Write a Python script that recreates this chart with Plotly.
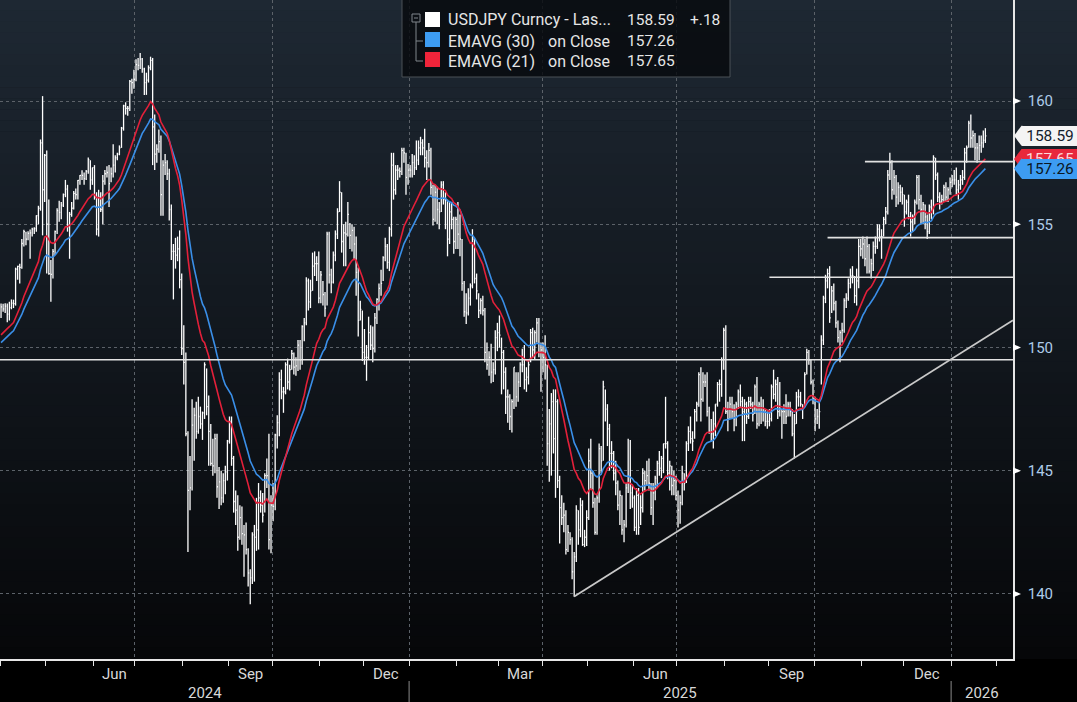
import numpy as np
import pandas as pd
import plotly.graph_objects as go

# ---------------- data (daily bars, weekdays from START_DATE) ----------------
START_DATE = "2024-04-01"

CLOSE = [
    # Apr 2024
    151.65,151.57,151.68,151.35,151.62,151.80,151.78,153.18,153.29,153.25,154.22,154.70,154.40,154.63,154.65,154.80,154.82,155.35,155.65,158.30,156.40,157.80,
    # May
    155.00,153.00,152.97,153.90,154.70,155.55,155.48,155.78,156.20,156.43,154.90,155.40,155.65,156.25,156.20,156.78,156.98,156.98,156.85,157.15,157.62,156.80,157.30,
    # Jun
    156.10,154.80,156.10,155.60,156.75,157.05,157.10,156.65,157.05,157.40,157.70,157.85,158.10,158.90,159.80,159.70,159.70,160.80,160.75,160.88,
    # Jul
    161.48,161.45,161.70,161.30,160.75,160.85,161.35,161.65,158.95,157.85,158.05,158.35,156.20,157.40,157.50,157.05,155.60,153.90,153.90,153.75,154.00,152.75,149.95,
    # Aug
    149.40,146.50,144.20,144.30,146.85,147.25,146.60,147.20,146.90,147.35,149.30,147.60,146.60,145.30,145.20,146.30,144.35,144.55,143.90,144.60,144.95,146.20,
    # Sep
    147.00,145.50,143.75,143.40,142.30,143.10,142.45,142.40,141.80,140.85,140.65,142.40,142.30,142.60,143.90,143.60,143.20,144.80,144.80,142.20,143.60,
    # Oct
    143.55,146.45,146.95,148.70,148.20,148.20,149.30,148.60,149.10,149.75,149.20,149.25,150.10,149.50,150.85,151.00,152.70,151.85,152.30,153.30,153.40,153.40,152.00,
    # Nov
    152.95,152.15,151.60,154.60,152.95,152.65,153.75,154.60,155.50,156.30,154.30,154.65,154.60,155.40,154.55,154.75,154.20,153.05,151.10,151.55,149.80,
    # Dec
    149.60,149.60,150.60,150.10,149.95,151.20,151.95,152.40,152.60,153.65,154.10,153.45,154.80,157.40,156.40,157.20,157.20,157.15,158.00,157.90,156.90,157.20,
    # Jan 2025
    157.20,157.50,157.30,157.60,158.10,158.30,158.10,157.70,157.50,158.00,156.50,155.20,156.30,155.60,155.50,156.60,156.00,156.00,154.40,155.50,155.20,154.30,155.20,
    # Feb
    154.60,154.40,152.60,151.45,151.40,152.00,152.50,154.40,152.80,152.30,151.50,151.90,151.50,149.80,149.30,149.60,149.00,149.10,150.40,150.60,
    # Mar
    150.50,149.80,149.00,148.00,148.00,147.20,147.80,149.20,148.00,148.60,149.30,149.30,148.70,148.80,149.30,150.60,149.90,150.60,151.00,149.80,149.90,
    # Apr
    149.60,149.30,146.10,146.90,147.80,146.30,147.80,144.60,143.50,143.10,143.20,141.80,142.50,142.20,140.90,141.50,143.40,142.60,143.60,142.00,142.30,143.10,
    # May
    145.40,144.90,143.70,142.50,143.90,145.90,145.40,148.40,147.50,146.70,145.70,145.70,144.90,144.50,143.60,144.00,142.60,142.80,144.30,144.80,144.10,143.90,
    # Jun
    142.70,144.00,142.70,143.50,144.90,144.60,144.80,144.50,143.50,144.10,144.70,145.30,145.10,145.50,146.10,146.10,144.90,145.20,144.40,144.60,144.00,
    # Jul
    143.40,143.70,144.90,144.50,146.10,146.60,146.30,146.20,147.40,147.70,148.90,147.90,148.60,148.60,147.40,146.60,146.50,146.90,147.70,148.50,148.50,149.50,150.70,
    # Aug
    147.40,147.10,147.70,147.40,147.10,147.70,148.20,147.80,147.40,147.70,147.20,147.80,147.70,147.30,148.40,146.90,147.70,147.40,147.40,147.00,147.00,
    # Sep
    147.10,148.40,148.10,148.50,147.40,147.50,147.40,147.40,147.20,147.70,147.40,146.50,146.90,148.00,148.00,147.70,147.60,148.90,149.80,149.50,148.60,147.90,
    # Oct
    147.10,147.20,147.40,150.30,152.00,152.70,153.00,151.20,152.30,151.80,151.00,150.40,150.60,150.70,151.90,152.00,152.60,152.90,152.90,152.10,152.70,154.10,154.00,
    # Nov
    154.20,153.60,154.10,153.10,153.40,154.10,154.10,154.80,154.50,154.50,155.20,155.50,157.00,157.50,156.40,156.90,156.10,156.50,156.30,156.20,
    # Dec
    155.50,155.90,155.30,155.10,155.30,155.90,156.90,156.00,155.60,155.80,155.30,154.70,155.70,155.60,157.70,157.00,156.10,155.90,156.00,156.50,156.10,156.40,156.70,
    # Jan 2026
    156.80,156.80,156.40,156.60,156.80,156.90,157.90,158.10,159.10,158.50,158.60,158.10,158.10,158.20,158.30,158.41,158.59,
]

HIGH = [
    151.78,151.77,151.80,151.78,151.86,151.95,151.94,153.24,153.32,153.40,154.40,154.78,154.70,154.72,154.79,154.86,154.88,155.37,155.75,158.44,160.20,157.85,
    157.99,156.00,153.55,154.00,154.75,155.65,155.95,155.90,156.25,156.80,156.60,155.50,155.90,156.35,156.45,156.80,157.00,157.19,157.10,157.20,157.71,157.60,157.30,
    157.40,156.30,156.40,156.30,157.00,157.20,157.35,157.40,157.30,158.25,157.80,157.90,158.20,158.95,159.85,159.95,159.80,160.85,160.90,161.27,
    161.70,161.75,161.95,161.75,161.35,161.15,161.45,161.80,161.75,159.45,158.25,158.85,158.60,157.60,157.85,157.60,157.25,155.80,154.20,154.45,154.50,154.75,153.00,
    150.90,149.80,146.60,145.60,147.90,147.55,147.80,148.00,147.60,147.40,149.40,149.15,148.05,146.90,146.30,146.50,146.50,145.15,145.00,144.90,145.20,146.25,
    147.20,147.20,145.60,144.20,144.00,143.60,143.55,142.80,142.90,141.85,141.00,142.50,142.80,143.90,144.50,144.20,144.10,144.90,145.50,146.50,144.00,
    144.50,146.50,147.25,149.00,149.10,148.40,149.40,149.55,149.30,149.90,149.80,149.60,150.30,150.30,150.90,151.20,152.85,152.80,152.75,153.85,153.90,153.70,153.90,
    153.10,152.70,152.25,154.70,154.70,153.20,153.90,154.75,155.65,156.75,156.30,155.00,155.10,155.90,155.05,155.00,154.90,154.50,153.25,151.90,151.50,
    150.75,150.10,151.25,150.90,150.85,151.40,152.00,152.60,153.15,153.70,154.45,154.20,154.90,157.90,157.90,157.40,157.40,157.30,158.10,158.10,157.90,157.45,
    157.40,157.85,157.80,158.40,158.40,158.55,158.45,158.88,158.00,158.30,158.10,156.60,156.60,156.50,155.90,156.75,156.75,156.30,156.00,155.90,155.90,155.30,155.30,
    155.90,155.40,154.40,152.70,152.20,152.40,152.60,154.80,154.45,153.00,152.20,152.00,152.10,151.60,150.20,149.85,150.15,149.40,150.70,151.00,
    151.30,150.40,149.90,149.20,148.30,148.10,147.90,149.20,149.00,149.00,149.40,149.95,150.10,149.20,149.50,150.75,150.80,150.70,151.20,151.20,150.20,
    150.20,150.50,149.30,147.50,148.15,148.30,148.30,147.90,144.80,144.00,143.70,143.40,142.80,142.50,142.30,141.70,143.60,143.40,143.90,143.80,142.60,143.40,
    145.90,146.30,145.00,143.90,144.00,146.10,146.00,148.65,148.30,147.70,146.90,146.20,145.80,145.40,144.60,144.20,144.00,143.00,144.50,146.30,146.25,144.40,
    144.00,144.30,144.30,144.00,145.10,145.00,145.40,145.50,144.50,144.50,144.80,145.40,145.80,145.60,146.10,148.00,146.20,145.40,145.20,145.00,144.80,
    144.20,144.00,145.20,144.90,146.20,146.80,147.20,146.60,147.50,147.80,149.00,149.20,149.00,148.90,149.00,147.60,147.10,147.40,147.70,148.60,148.70,149.60,150.80,
    150.90,147.80,148.00,148.00,147.70,147.80,148.30,148.50,148.00,147.90,147.80,148.00,148.00,147.80,148.50,148.80,147.80,148.00,147.90,147.50,147.40,
    147.50,148.50,149.10,148.70,148.80,148.60,147.50,147.70,148.10,147.80,147.80,147.50,147.30,148.20,148.30,148.20,147.70,149.00,149.95,149.90,149.50,148.70,
    148.00,147.50,147.90,150.50,152.10,152.95,153.20,153.30,152.50,152.60,151.90,151.10,150.70,151.00,152.00,152.20,152.80,153.20,153.30,152.90,153.20,154.40,154.40,
    154.50,154.40,154.50,154.20,153.60,154.30,154.50,155.00,155.00,154.80,155.30,155.70,157.20,157.90,157.60,157.20,157.00,156.70,156.60,156.50,
    156.20,156.00,156.20,155.50,155.40,156.00,157.00,157.00,156.20,155.90,155.80,155.40,155.80,156.00,157.80,157.70,157.10,156.30,156.20,156.60,156.70,156.50,156.90,
    157.00,157.20,157.30,156.80,157.00,157.20,158.10,158.20,159.20,159.45,158.80,158.70,158.30,158.60,158.60,158.80,158.90,
]

LOW = [
    151.20,151.45,151.40,151.02,151.10,151.55,151.60,151.70,152.75,152.60,153.20,154.10,154.15,154.35,153.60,154.50,154.60,154.70,155.00,155.55,154.55,155.90,
    153.00,152.95,151.86,152.80,153.75,154.60,155.10,155.20,155.70,156.10,154.70,153.60,155.30,155.60,156.00,156.00,156.60,156.80,156.60,156.80,157.05,156.40,156.60,
    156.00,154.55,154.50,155.50,155.00,156.60,156.90,155.70,156.70,156.90,157.10,157.60,157.80,158.10,158.80,159.45,159.40,159.60,160.30,160.50,
    160.80,161.25,161.30,161.15,160.25,160.25,160.75,161.25,157.40,157.20,157.50,157.90,155.35,155.35,157.00,156.80,155.15,153.55,151.95,153.20,153.50,152.40,149.70,
    148.50,146.40,141.70,143.40,144.20,145.40,146.30,146.50,146.70,146.25,147.10,147.25,145.20,145.20,144.80,144.90,143.90,143.45,143.60,143.70,144.05,144.60,
    146.10,145.20,143.30,142.80,141.75,142.20,142.00,140.70,141.60,140.30,139.58,140.40,140.50,141.75,141.80,143.30,142.90,143.30,144.30,141.80,141.65,
    142.95,143.40,145.90,146.40,147.90,147.35,148.10,148.30,148.25,149.10,148.90,148.85,149.05,149.10,149.30,150.25,150.90,151.50,151.60,152.30,152.90,152.70,151.80,
    151.80,151.70,151.25,151.70,152.60,152.20,152.60,153.50,154.40,155.50,153.85,153.30,153.30,154.50,154.00,153.90,153.55,152.10,150.45,151.10,149.45,
    149.30,148.65,149.50,149.90,149.40,149.80,150.95,151.50,152.10,152.70,153.50,153.20,153.10,154.50,156.00,156.20,156.80,156.90,157.00,157.50,156.20,156.60,
    156.90,156.90,157.00,157.20,157.40,157.80,157.80,157.30,156.80,157.30,156.20,154.95,155.10,155.00,154.80,155.50,155.80,154.80,153.70,154.20,154.80,153.80,154.00,
    154.00,153.70,152.30,151.25,150.95,151.30,151.70,152.40,152.60,151.95,151.20,151.35,151.30,149.40,149.10,148.85,148.55,148.60,148.90,149.85,
    150.00,148.10,148.30,147.30,146.95,146.65,146.55,147.50,147.60,147.80,148.40,149.00,148.30,148.20,148.50,149.40,149.60,149.50,150.20,149.60,148.20,
    149.00,148.70,145.20,144.55,144.80,145.70,143.90,144.30,142.05,142.80,142.50,141.60,141.70,142.00,140.60,139.89,141.30,142.00,142.30,141.95,141.90,141.95,
    143.00,144.25,143.50,142.40,142.40,143.70,144.90,145.40,147.00,146.00,145.00,145.10,144.60,144.00,143.40,142.80,142.40,142.10,142.70,144.10,143.45,143.50,
    142.55,142.40,142.40,142.80,143.30,144.20,144.40,144.20,143.20,142.80,143.80,144.30,144.80,144.70,144.90,145.90,144.65,144.20,144.00,144.00,143.80,
    142.70,142.85,143.60,144.20,144.50,145.80,146.10,145.80,146.30,147.00,147.60,147.00,147.80,148.40,147.20,146.50,146.20,145.90,146.40,147.60,147.80,148.00,149.10,
    147.30,146.60,147.10,147.10,146.60,146.80,147.50,147.60,146.20,146.20,146.90,147.10,147.50,147.00,147.30,146.70,146.80,146.90,147.00,146.80,146.70,
    146.80,147.00,147.90,147.80,147.10,147.20,146.30,146.90,146.90,147.20,147.20,146.40,145.50,146.90,147.60,147.60,147.10,147.60,148.90,149.30,148.50,147.70,
    146.60,146.90,146.70,148.50,150.10,151.80,152.40,151.00,151.40,151.50,150.80,150.20,149.40,150.20,150.60,151.60,151.90,152.40,152.60,151.80,151.70,152.40,153.70,
    153.60,153.30,153.00,153.00,152.80,153.10,153.80,154.00,154.30,153.60,154.50,155.00,155.40,156.80,156.00,156.20,155.70,155.80,155.90,155.80,
    154.90,155.40,155.20,154.50,154.70,155.00,155.80,155.60,155.00,155.00,154.80,154.40,154.60,155.20,155.40,156.80,155.90,155.60,155.80,155.90,155.90,155.90,156.20,
    156.50,156.60,156.20,156.00,156.40,156.60,156.80,157.50,158.10,158.10,158.10,157.60,157.50,157.60,157.90,158.10,158.30,
]

EMA21_SEED = 150.4   # EMA values just before the first bar (read at left edge)
EMA30_SEED = 150.1

LEGEND_NAME = "USDJPY Curncy - Las..."
LAST_PRICE = 158.59
LAST_CHANGE = "+.18"
EMA30_LAST = 157.26
EMA21_LAST = 157.65

Y_TICKS = [140, 145, 150, 155, 160]
LEVELS = [149.5, 152.85, 154.46, 157.54]
LEVEL_FROM = [None, "2025-09-01", "2025-10-09", "2025-11-04"]
TREND_FROM = ("2025-04-22", 139.9)
TREND_TO = ("2026-02-11", 151.09)

assert len(CLOSE) == len(HIGH) == len(LOW), (len(CLOSE), len(HIGH), len(LOW))

# ---------------- layout constants ----------------
W, H = 1077, 702
ML, MR, MT, MB = 0, 64, 0, 43
PW, PH = W - ML - MR, H - MT - MB
XR = [-0.5, 487.3]
YR = [137.36, 164.10]
FONT = "Roboto, 'Liberation Sans', Arial, sans-serif"


def PX(px):
    return (px - ML) / PW


def PY(py):
    return 1 - (py - MT) / PH


def XP(idx):
    return (idx - XR[0]) / (XR[1] - XR[0])


n = len(CLOSE)
all_dates = pd.bdate_range(START_DATE, periods=n + 20)
date_idx = {d.strftime("%Y-%m-%d"): i for i, d in enumerate(all_dates)}
x = np.arange(n)


def ema(vals, span, seed):
    a = 2.0 / (span + 1)
    e = seed
    out = []
    for v in vals:
        e = e + a * (v - e)
        out.append(e)
    return out


ema21 = ema(CLOSE, 21, EMA21_SEED)
ema30 = ema(CLOSE, 30, EMA30_SEED)

# month boundaries
bounds = [(-0.5, all_dates[0])]
for i in range(1, len(all_dates)):
    if all_dates[i].month != all_dates[i - 1].month:
        bounds.append((i - 0.5, all_dates[i]))
month_b = [b for b, d in bounds]
quarter_b = [b for b, d in bounds if d.month in (1, 4, 7, 10)]
year_b = [b for b, d in bounds if d.month == 1]

fig = go.Figure()

# bars
bx, by = [], []
for i, (h, l, c) in enumerate(zip(HIGH, LOW, CLOSE)):
    bx += [i, i, None, i, i + 0.5, None]
    by += [l, h, None, c, c, None]
fig.add_trace(go.Scatter(x=bx, y=by, mode="lines", line=dict(color="#ffffff", width=1.3),
                         hoverinfo="skip", showlegend=False))
fig.add_trace(go.Scatter(x=x, y=ema30, mode="lines", line=dict(color="#3a8fe8", width=1.6),
                         showlegend=False))
fig.add_trace(go.Scatter(x=x, y=ema21, mode="lines", line=dict(color="#e3203a", width=1.6),
                         showlegend=False))

shapes = []
# gradient background
NB = 60
top, bot = np.array([30, 40, 51]), np.array([6, 7, 9])
for k in range(NB):
    t = (k + 0.5) / NB
    c = top * (1 - t) + bot * t
    shapes.append(dict(type="rect", xref="paper", yref="paper", x0=0, x1=1.1,
                       y0=1 - (k + 1) / NB, y1=1 - k / NB + 0.001, layer="below",
                       line=dict(width=0),
                       fillcolor="rgb(%d,%d,%d)" % tuple(c.round().astype(int))))

# support levels
for lv, fr in zip(LEVELS, LEVEL_FROM):
    x0 = XR[0] if fr is None else date_idx[fr]
    shapes.append(dict(type="line", xref="x", yref="y", x0=x0, x1=XR[1], y0=lv, y1=lv,
                       line=dict(color="#e2e2e2", width=1.6), layer="above"))
# trend line
tx0, ty0 = date_idx[TREND_FROM[0]], TREND_FROM[1]
tx1, ty1 = date_idx[TREND_TO[0]], TREND_TO[1]
slope = (ty1 - ty0) / (tx1 - tx0)
shapes.append(dict(type="line", xref="x", yref="y", x0=tx0, y0=ty0, x1=XR[1],
                   y1=ty0 + slope * (XR[1] - tx0),
                   line=dict(color="#c9c9c9", width=1.8), layer="above"))

# y tick arrows
for v in Y_TICKS:
    shapes.append(dict(type="path", xref="paper", xsizemode="pixel", xanchor=1,
                       yref="y", ysizemode="pixel", yanchor=v,
                       path="M 0,-3.5 L 8,0 L 0,3.5 Z", fillcolor="#ffffff",
                       line=dict(width=0), layer="above"))

# legend box
shapes.append(dict(type="rect", xref="paper", yref="paper", x0=PX(402), x1=PX(730),
                   y0=PY(77), y1=PY(-6), fillcolor="rgba(7,10,13,0.82)",
                   line=dict(color="#4a5057", width=1), layer="above"))
for (y0, col) in [(12, "#ffffff"), (32, "#3d9cf2"), (52, "#f0243a")]:
    shapes.append(dict(type="rect", xref="paper", yref="paper", x0=PX(425), x1=PX(440),
                       y0=PY(y0 + 15), y1=PY(y0), fillcolor=col, line=dict(width=0),
                       layer="above"))
tree = "#80868c"
shapes.append(dict(type="rect", xref="paper", yref="paper", x0=PX(412), x1=PX(420),
                   y0=PY(22), y1=PY(14), line=dict(color=tree, width=1), layer="above"))
shapes.append(dict(type="line", xref="paper", yref="paper", x0=PX(414), x1=PX(418),
                   y0=PY(18), y1=PY(18), line=dict(color=tree, width=1), layer="above"))
shapes.append(dict(type="line", xref="paper", yref="paper", x0=PX(416), x1=PX(416),
                   y0=PY(22), y1=PY(61), line=dict(color=tree, width=1), layer="above"))
for yy in (41, 61):
    shapes.append(dict(type="line", xref="paper", yref="paper", x0=PX(416), x1=PX(423),
                       y0=PY(yy), y1=PY(yy), line=dict(color=tree, width=1), layer="above"))

# value tag tips
for v, col in [(EMA21_LAST, "#e8283c"), (EMA30_LAST, "#3d9cf2"), (LAST_PRICE, "#f4f4f4")]:
    shapes.append(dict(type="path", xref="paper", xsizemode="pixel", xanchor=1,
                       yref="y", ysizemode="pixel", yanchor=v,
                       path="M 1,0 L 8.5,-10 L 9.5,-10 L 9.5,10 L 8.5,10 Z",
                       fillcolor=col, line=dict(width=0), layer="above"))

# year separators
for b in year_b:
    shapes.append(dict(type="line", xref="paper", yref="paper", x0=XP(b), x1=XP(b),
                       y0=PY(681), y1=PY(702), line=dict(color="#8a8a8a", width=1)))

annotations = []
word_font = dict(family=FONT, size=16, color="#e6e6e6")
num_font = dict(family=FONT, size=15.5, color="#e6e6e6")
rows = [(20, LEGEND_NAME, None, "%.2f" % LAST_PRICE, LAST_CHANGE),
        (41, "EMAVG (30)", "on Close", "%.2f" % EMA30_LAST, None),
        (61, "EMAVG (21)", "on Close", "%.2f" % EMA21_LAST, None)]
for yy, name, mid, val, chg in rows:
    annotations.append(dict(xref="paper", yref="paper", x=PX(446), y=PY(yy), text=name,
                            xanchor="left", yanchor="middle", showarrow=False, font=word_font))
    if mid:
        annotations.append(dict(xref="paper", yref="paper", x=PX(546), y=PY(yy), text=mid,
                                xanchor="left", yanchor="middle", showarrow=False,
                                font=word_font))
    annotations.append(dict(xref="paper", yref="paper", x=PX(677), y=PY(yy), text=val,
                            xanchor="right", yanchor="middle", showarrow=False, font=num_font))
    if chg:
        annotations.append(dict(xref="paper", yref="paper", x=PX(688), y=PY(yy), text=chg,
                                xanchor="left", yanchor="middle", showarrow=False,
                                font=num_font))

# value tags (drawn in order: red, blue over it, white)
for v, bg, fg in [(EMA21_LAST, "#e8283c", "#ffd9dc"), (EMA30_LAST, "#3d9cf2", "#0b1722"),
                  (LAST_PRICE, "#f4f4f4", "#13202c")]:
    annotations.append(dict(xref="paper", yref="y", x=PX(1021.5), y=v, text="%.2f" % v,
                            xanchor="left", yanchor="middle", showarrow=False,
                            width=56, height=20, bgcolor=bg, borderpad=0, borderwidth=0,
                            align="center", font=dict(family=FONT, size=15.5, color=fg)))

# month labels (every quarter-end month, centred in the month)
for k in range(len(bounds) - 1):
    b0, d0 = bounds[k]
    b1, _ = bounds[k + 1]
    if d0.month % 3 == 0 and b1 <= XR[1]:
        annotations.append(dict(xref="x", yref="paper", x=(b0 + b1) / 2, y=PY(674),
                                text=d0.strftime("%b"), showarrow=False, xanchor="center",
                                yanchor="middle",
                                font=dict(family=FONT, size=15, color="#d8d8d8")))
# year labels
yb = [XR[0]] + year_b + [XR[1]]
years = [all_dates[0].year + k for k in range(len(yb) - 1)]
for k, yr in enumerate(years):
    annotations.append(dict(xref="x", yref="paper", x=(yb[k] + yb[k + 1]) / 2, y=PY(693),
                            text=str(yr), showarrow=False, xanchor="center", yanchor="middle",
                            font=dict(family=FONT, size=15, color="#d8d8d8")))

grid = "#5c6269"
fig.update_layout(
    width=W, height=H, autosize=False,
    margin=dict(l=ML, r=MR, t=MT, b=MB, pad=0),
    paper_bgcolor="#000000", plot_bgcolor="rgba(0,0,0,0)",
    shapes=shapes, annotations=annotations, showlegend=False,
    xaxis=dict(range=XR, showline=True, linecolor="#e6e6e6", linewidth=1.5,
               zeroline=False, showgrid=True, gridcolor=grid, gridwidth=1,
               griddash="3px,3px", tickmode="array", tickvals=quarter_b,
               ticks="outside", ticklen=5, tickcolor="#e6e6e6", tickwidth=1,
               showticklabels=False,
               minor=dict(tickmode="array", tickvals=month_b, ticks="outside", ticklen=5,
                          tickcolor="#e6e6e6", tickwidth=1, showgrid=False)),
    yaxis=dict(range=YR, side="right", showline=True, linecolor="#e6e6e6", linewidth=1.5,
               zeroline=False, showgrid=True, gridcolor=grid, gridwidth=1,
               griddash="3px,3px", tickmode="array", tickvals=Y_TICKS,
               ticktext=[str(v) for v in Y_TICKS], ticks="outside", ticklen=10,
               tickcolor="rgba(0,0,0,0)",
               tickfont=dict(family=FONT, size=15, color="#aecbe8")),
)

fig.write_html("out.html")
